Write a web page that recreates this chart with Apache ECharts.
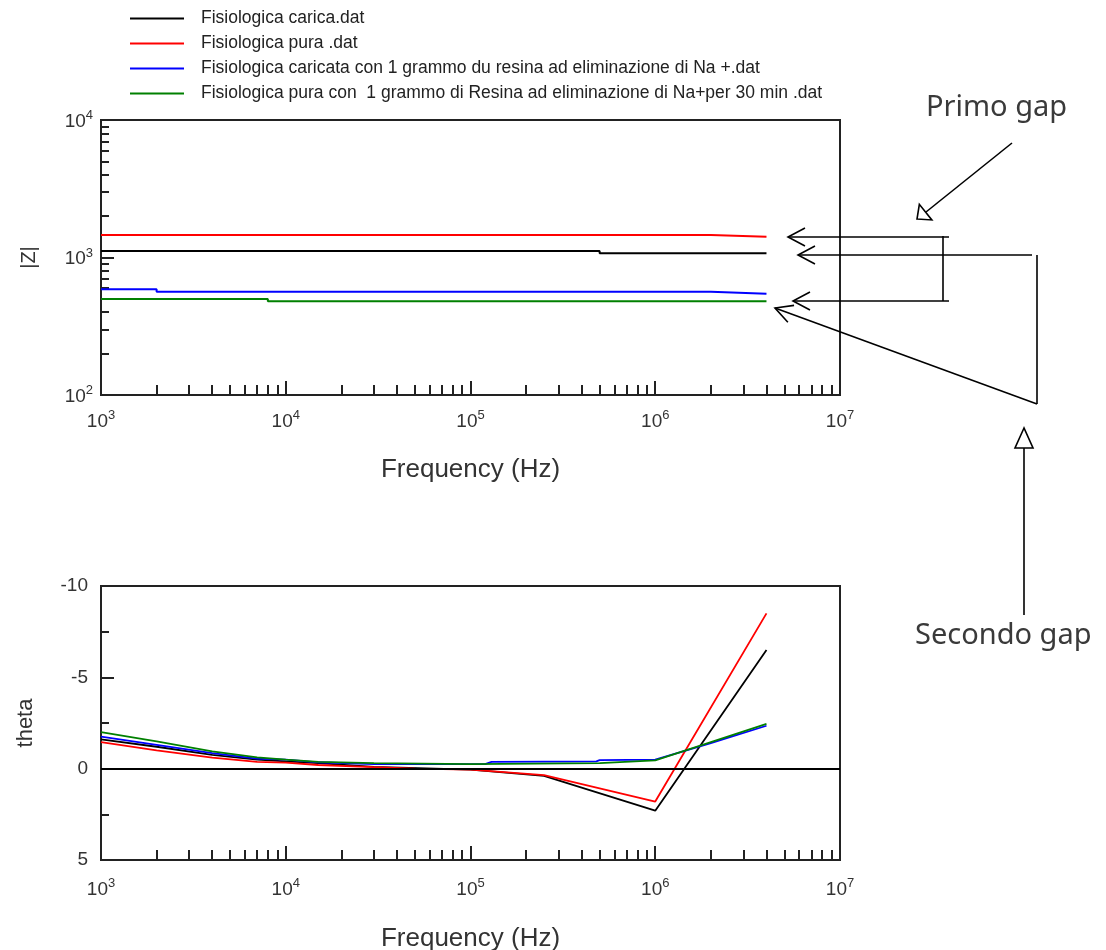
<!DOCTYPE html>
<html>
<head>
<meta charset="utf-8">
<script src="https://cdn.jsdelivr.net/npm/echarts@6/dist/echarts.min.js"></script>
<style>
html,body{margin:0;padding:0;background:#fff;}
#main{width:1106px;height:950px;}
</style>
</head>
<body>
<div id="main"></div>
<script>
// ---- Data ----
const seriesNames = [
  'Fisiologica carica.dat',
  'Fisiologica pura .dat',
  'Fisiologica caricata con 1 grammo du resina ad eliminazione di Na +.dat',
  'Fisiologica pura con  1 grammo di Resina ad eliminazione di Na+per 30 min .dat'
];
const seriesColors = ['#000000', '#ff0000', '#0000ff', '#008000'];

// |Z| vs frequency (Hz) — stepwise readings
const zBlack = [[1e3, 1115], [5e5, 1115], [5e5, 1073], [4e6, 1073]];
const zRed   = [[1e3, 1459], [2e6, 1459], [2e6, 1417], [4e6, 1417]];
const zBlue  = [[1e3, 588], [2e3, 588], [2e3, 564], [2e6, 564], [2e6, 546], [4e6, 546]];
const zGreen = [[1e3, 499], [8e3, 499], [8e3, 480], [4e6, 480]];

// theta vs frequency (Hz)
const thBlack = [[1e3,-1.6],[2e3,-1.2],[4e3,-0.75],[7e3,-0.5],[1e4,-0.4],[1.5e4,-0.3],[3e4,-0.1],[1e5,0.05],[2.5e5,0.4],[1e6,2.3],[4e6,-6.5]];
const thRed   = [[1e3,-1.45],[2e3,-1.0],[4e3,-0.6],[7e3,-0.37],[1e4,-0.33],[1.5e4,-0.2],[3e4,-0.08],[5e4,0],[1e5,0.05],[2.5e5,0.35],[1e6,1.8],[4e6,-8.5]];
const thBlue  = [[1e3,-1.75],[2e3,-1.3],[4e3,-0.85],[7e3,-0.55],[1e4,-0.5],[1.5e4,-0.35],[3e4,-0.25],[1.2e5,-0.25],[1.3e5,-0.37],[4.8e5,-0.4],[5e5,-0.47],[1e6,-0.5],[2e6,-1.4],[4e6,-2.35]];
const thGreen = [[1e3,-2.0],[2e3,-1.5],[4e3,-0.95],[7e3,-0.62],[1e4,-0.5],[1.5e4,-0.37],[3e4,-0.3],[1e5,-0.25],[5e5,-0.3],[1e6,-0.45],[2e6,-1.45],[4e6,-2.45]];

// Axis ticks
const freqMin = 1e3, freqMax = 1e7;
const zMin = 1e2, zMax = 1e4;
const thetaMin = -10, thetaMax = 5, thetaStep = 5;
const logMinorMultipliers = [2, 3, 4, 5, 6, 7, 8, 9];

// ---- Helpers ----
function minorLogValues(lo, hi) {
  const out = [];
  for (let e = Math.round(Math.log10(lo)); e < Math.round(Math.log10(hi)); e++) {
    logMinorMultipliers.forEach(m => out.push(Math.log10(m) + e));
  }
  return out;
}
const FONT = 'Liberation Sans, Arial, sans-serif';
const labelColor = '#333';
const powRich = {
  b: {fontSize: 19, fontFamily: FONT, color: labelColor, verticalAlign: 'bottom', lineHeight: 22},
  s: {fontSize: 13, fontFamily: FONT, color: labelColor, verticalAlign: 'top', lineHeight: 22}
};
function powFmt(v) { return '{b|10}{s|' + Math.round(Math.log10(v)) + '}'; }

const grids = [
  {left: 101, top: 120, width: 739, height: 275, show: true, borderColor: '#222', borderWidth: 2,
   backgroundColor: 'transparent', containLabel: false, outerBoundsMode: 'none'},
  {left: 101, top: 586, width: 739, height: 274, show: true, borderColor: '#222', borderWidth: 2,
   backgroundColor: 'transparent', containLabel: false, outerBoundsMode: 'none'}
];

function mainFreqAxis(gi, nameGap, margin) {
  return {
    type: 'log', gridIndex: gi, min: freqMin, max: freqMax, logBase: 10, position: 'bottom',
    name: 'Frequency (Hz)', nameLocation: 'middle', nameGap: nameGap,
    nameTextStyle: {fontSize: 26, fontFamily: FONT, color: '#333'},
    axisLine: {show: true, onZero: false, lineStyle: {color: '#222', width: 2}},
    axisTick: {show: true, inside: true, length: 14, lineStyle: {color: '#222', width: 2}},
    axisLabel: {formatter: powFmt, rich: powRich, margin: margin},
    splitLine: {show: false}, minorTick: {show: false}
  };
}
function minorFreqAxis(gi) {
  return {
    type: 'value', gridIndex: gi, min: Math.log10(freqMin), max: Math.log10(freqMax), position: 'bottom',
    axisLine: {show: false, onZero: false},
    axisTick: {show: true, inside: true, length: 10, customValues: minorLogValues(freqMin, freqMax), lineStyle: {color: '#222', width: 2}},
    axisLabel: {show: false}, splitLine: {show: false}
  };
}

const option = {
  animation: false,
  backgroundColor: '#fff',
  legend: {
    data: seriesNames,
    orient: 'vertical', left: 125, top: 4,
    icon: 'rect', itemWidth: 54, itemHeight: 2, itemGap: 6,
    textStyle: {fontSize: 17.5, lineHeight: 19, fontFamily: FONT, color: '#222', padding: [0, 0, 0, 12]},
    selectedMode: false
  },
  grid: grids,
  xAxis: [mainFreqAxis(0, 62, 14), minorFreqAxis(0), mainFreqAxis(1, 66, 17), minorFreqAxis(1)],
  yAxis: [
    {
      type: 'log', gridIndex: 0, min: zMin, max: zMax, logBase: 10, position: 'left',
      name: '|Z|', nameLocation: 'middle', nameGap: 62, nameRotate: 90,
      nameTextStyle: {fontSize: 20, fontFamily: FONT, color: '#333'},
      axisLine: {show: true, onZero: false, lineStyle: {color: '#222', width: 2}},
      axisTick: {show: true, inside: true, length: 13, lineStyle: {color: '#222', width: 2}},
      axisLabel: {formatter: powFmt, rich: powRich, margin: 8},
      splitLine: {show: false}
    },
    {
      type: 'value', gridIndex: 0, min: Math.log10(zMin), max: Math.log10(zMax), position: 'left',
      axisLine: {show: false, onZero: false},
      axisTick: {show: true, inside: true, length: 8, customValues: minorLogValues(zMin, zMax), lineStyle: {color: '#222', width: 2}},
      axisLabel: {show: false}, splitLine: {show: false}
    },
    {
      type: 'value', gridIndex: 1, min: thetaMin, max: thetaMax, interval: thetaStep, inverse: true, position: 'left',
      name: 'theta', nameLocation: 'middle', nameGap: 64, nameRotate: 90,
      nameTextStyle: {fontSize: 22, fontFamily: FONT, color: '#333'},
      axisLine: {show: true, onZero: false, lineStyle: {color: '#222', width: 2}},
      axisTick: {show: true, inside: true, length: 13, lineStyle: {color: '#222', width: 2}},
      minorTick: {show: true, splitNumber: 2, length: 8, lineStyle: {color: '#222', width: 2}},
      axisLabel: {fontSize: 19, fontFamily: FONT, color: labelColor, margin: 13},
      splitLine: {show: false}
    }
  ],
  series: []
};

const zData = [zBlack, zRed, zBlue, zGreen];
const thData = [thBlack, thRed, thBlue, thGreen];
zData.forEach((d, i) => {
  option.series.push({
    name: seriesNames[i], type: 'line', xAxisIndex: 0, yAxisIndex: 0,
    data: d, showSymbol: false, symbol: 'none',
    lineStyle: {color: seriesColors[i], width: 2}, itemStyle: {color: seriesColors[i]}
  });
});
thData.forEach((d, i) => {
  const s = {
    name: seriesNames[i], type: 'line', xAxisIndex: 2, yAxisIndex: 2,
    data: d, showSymbol: false, symbol: 'none',
    lineStyle: {color: seriesColors[i], width: 1.8}, itemStyle: {color: seriesColors[i]}
  };
  if (i === 0) {
    s.markLine = {silent: true, symbol: 'none', label: {show: false},
      lineStyle: {color: '#000', width: 1.8, type: 'solid'}, data: [{yAxis: 0}]};
  }
  option.series.push(s);
});

// ---- Annotations (outside the plot) ----
const ann = {stroke: '#000', lineWidth: 1.6, fill: null};
function line(pts) { return {type: 'polyline', shape: {points: pts}, style: ann, silent: true}; }
function vHead(tx, ty, dx, dy, len, half) {
  const L = Math.hypot(dx, dy), ux = dx / L, uy = dy / L, nx = -uy, ny = ux;
  const bx = tx + ux * len, by = ty + uy * len;
  return line([[bx + nx * half, by + ny * half], [tx, ty], [bx - nx * half, by - ny * half]]);
}
function triHead(tx, ty, dx, dy, len, half) {
  const L = Math.hypot(dx, dy), ux = dx / L, uy = dy / L, nx = -uy, ny = ux;
  const bx = tx + ux * len, by = ty + uy * len;
  return {type: 'polygon', shape: {points: [[tx, ty], [bx + nx * half, by + ny * half], [bx - nx * half, by - ny * half]]},
    style: {stroke: '#000', lineWidth: 1.6, fill: '#fff'}, silent: true};
}
const annFont = '29px "Noto Sans", "Open Sans", sans-serif';
option.graphic = [
  // Primo gap bracket
  line([[788, 237], [949, 237]]),
  line([[943, 236], [943, 301]]),
  line([[793, 301], [949, 301]]),
  vHead(788, 237, 1, 0, 17, 9),
  vHead(793, 301, 1, 0, 17, 9),
  // Secondo gap bracket
  line([[798, 255], [1032, 255]]),
  line([[1037, 255], [1037, 404]]),
  line([[1037, 404], [775, 308]]),
  vHead(798, 255, 1, 0, 17, 9),
  vHead(775, 308, 262, 96, 17, 9),
  // Primo gap pointer
  line([[1012, 143], [926, 212]]),
  triHead(917, 219, 95, -76, 11, 10),
  // Secondo gap pointer
  line([[1024, 615], [1024, 448]]),
  triHead(1024, 428, 0, 1, 20, 9),
  {type: 'text', left: 926, top: 93, silent: true, style: {text: 'Primo gap', font: annFont, fill: '#3a3a3a'}},
  {type: 'text', left: 915, top: 621, silent: true, style: {text: 'Secondo gap', font: annFont, fill: '#3a3a3a'}}
];

const chart = echarts.init(document.getElementById('main'), null, {renderer: 'canvas'});
chart.setOption(option);
</script>
</body>
</html>
